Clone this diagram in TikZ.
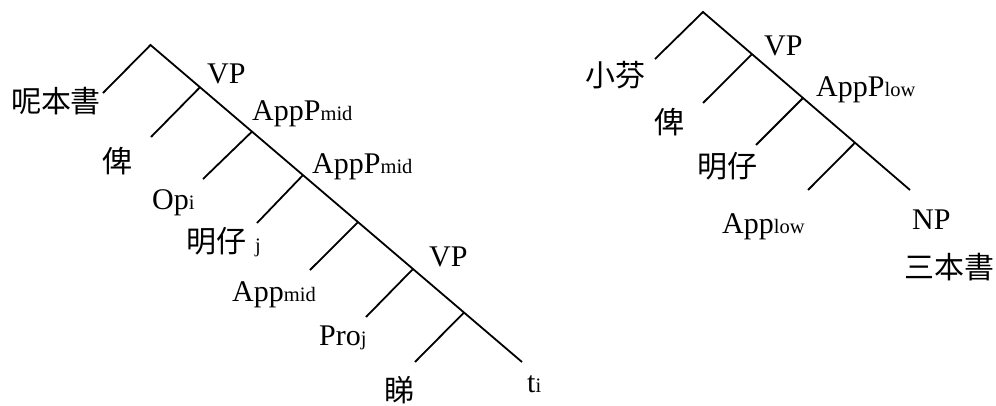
\documentclass[tikz,border=0pt]{standalone}
\usepackage{fontspec}
\setmainfont{Liberation Serif}
\newfontfamily\cjk{Noto Sans CJK TC}
\newcommand\lsub[1]{{\fontsize{20.5pt}{21pt}\selectfont #1}}
\begin{document}
\begin{tikzpicture}[x=1pt,y=-1pt,
  edge/.style={line width=1.8pt},
  lat/.style={inner sep=0pt, anchor=base west, font=\fontsize{30pt}{31pt}\selectfont},
  han/.style={inner sep=0pt, anchor=base, font=\fontsize{30pt}{31pt}\selectfont\cjk}]
\useasboundingbox (0,0) rectangle (996,405);
% left tree
\coordinate (LA) at (150.5,45);
\coordinate (LS) at (103,93);
\coordinate (LE) at (522,362);
\coordinate (L1) at (200,87.2);  \coordinate (L1e) at (151,137);
\coordinate (L2) at (252,131.6); \coordinate (L2e) at (203,179);
\coordinate (L3) at (303,175.1); \coordinate (L3e) at (257,223);
\coordinate (L4) at (358,222.1); \coordinate (L4e) at (310,270);
\coordinate (L5) at (413,269);   \coordinate (L5e) at (366,317);
\coordinate (L6) at (464,312.5); \coordinate (L6e) at (415,362);
\draw[edge] (LS) -- (LA) -- (LE);
\draw[edge] (L1) -- (L1e);
\draw[edge] (L2) -- (L2e);
\draw[edge] (L3) -- (L3e);
\draw[edge] (L4) -- (L4e);
\draw[edge] (L5) -- (L5e);
\draw[edge] (L6) -- (L6e);
% right tree
\coordinate (RA) at (703,12);
\coordinate (RS) at (655,59);
\coordinate (RE) at (910,190);
\coordinate (R1) at (752,54.1);  \coordinate (R1e) at (703,103);
\coordinate (R2) at (803,98);    \coordinate (R2e) at (756,145);
\coordinate (R3) at (855,142.7); \coordinate (R3e) at (808,190);
\draw[edge] (RS) -- (RA) -- (RE);
\draw[edge] (R1) -- (R1e);
\draw[edge] (R2) -- (R2e);
\draw[edge] (R3) -- (R3e);
% left labels
\node[han] (nbs) at (56,112.5) {呢本書};
\node[lat] (vp1) at (207,83) {VP};
\node[han] (bei1) at (117.5,172) {俾};
\node[lat] (appp1) at (252,120) {AppP\lsub{mid}};
\node[lat] (op) at (152,209.5) {Op\lsub{i}};
\node[lat] (appp2) at (312,173) {AppP\lsub{mid}};
\node[lat] (ming1) at (186,252) {{\cjk 明仔}\hspace{9pt}\lsub{j}};
\node[lat] (app1) at (232,301.5) {App\lsub{mid}};
\node[lat] (vp2) at (429,266) {VP};
\node[lat] (pro) at (319,345) {Pro\lsub{j}};
\node[han] (tai) at (399,401.5) {睇};
\node[lat] (ti) at (527,392) {t\lsub{i}};
% right labels
\node[han] (xf) at (615,86) {小芬};
\node[lat] (vp3) at (764,55) {VP};
\node[han] (bei2) at (669,133.5) {俾};
\node[lat] (appp3) at (816,96) {AppP\lsub{low}};
\node[han] (ming2) at (727.5,177.5) {明仔};
\node[lat] (app2) at (722,233) {App\lsub{low}};
\node[lat] (np) at (912,229) {NP};
\node[han] (sbs) at (949,278.5) {三本書};
\end{tikzpicture}
\end{document}
